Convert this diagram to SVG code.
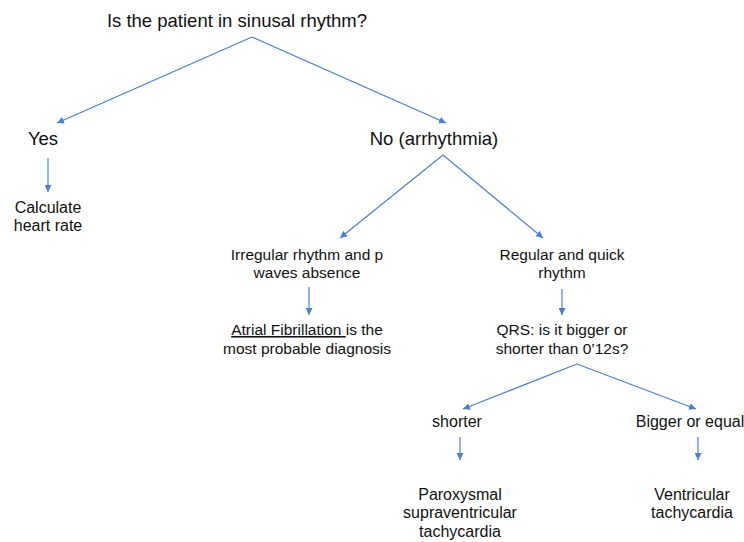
<svg xmlns="http://www.w3.org/2000/svg" width="744" height="542" viewBox="0 0 744 542">
<style>
text{font-family:"Liberation Sans",Arial,sans-serif;fill:#111;text-anchor:middle}
.big{font-size:18.5px}
.sm{font-size:15.5px}
.md{font-size:16px}
.c{stroke:#4a7fd4;stroke-width:1.2;fill:none;marker-end:url(#ah)}
</style>
<defs>
<marker id="ah" viewBox="0 0 10 10" refX="10" refY="5" markerWidth="7" markerHeight="7" markerUnits="userSpaceOnUse" orient="auto"><path d="M0,0 L10,5 L0,10 z" fill="#4a7fd4"/></marker>
</defs>
<rect width="744" height="542" fill="#fff"/>
<g id="connectors">
<path class="c" d="M252,37 L57,123"/>
<path class="c" d="M252,37 L446,123"/>
<path class="c" d="M48,158 L48,192"/>
<path class="c" d="M443,155 L340,238"/>
<path class="c" d="M443,155 L543,238"/>
<path class="c" d="M309,287 L309,315"/>
<path class="c" d="M562,289 L562,315"/>
<path class="c" d="M577,364 L463,409"/>
<path class="c" d="M577,364 L696,409"/>
<path class="c" d="M460,437 L460,460"/>
<path class="c" d="M698,437 L698,460"/>
</g>
<g id="q1"><text class="big" x="237" y="27">Is the patient in sinusal rhythm?</text></g>
<g id="yes"><text class="big" x="43" y="145">Yes</text></g>
<g id="no"><text class="big" x="434" y="145">No (arrhythmia)</text></g>
<g id="calc"><text class="md" x="48" y="213">Calculate</text><text class="md" x="48" y="231">heart rate</text></g>
<g id="irreg"><text class="sm" x="307" y="260">Irregular rhythm and p</text><text class="sm" x="307" y="278">waves absence</text></g>
<g id="af"><text class="sm" x="307" y="335"><tspan text-decoration="underline">Atrial Fibrillation </tspan>is the</text><text class="sm" x="307" y="354">most probable diagnosis</text></g>
<g id="reg"><text class="sm" x="562" y="260">Regular and quick</text><text class="sm" x="562" y="278">rhythm</text></g>
<g id="qrs"><text class="sm" x="562" y="335">QRS: is it bigger or</text><text class="sm" x="562" y="354">shorter than 0’12s?</text></g>
<g id="shorter"><text class="md" x="457" y="427">shorter</text></g>
<g id="bigger"><text class="md" x="690" y="427">Bigger or equal</text></g>
<g id="psvt"><text class="md" x="460" y="500">Paroxysmal</text><text class="md" x="460" y="518">supraventricular</text><text class="md" x="460" y="537">tachycardia</text></g>
<g id="vt"><text class="md" x="692" y="500">Ventricular</text><text class="md" x="692" y="518">tachycardia</text></g>
</svg>
